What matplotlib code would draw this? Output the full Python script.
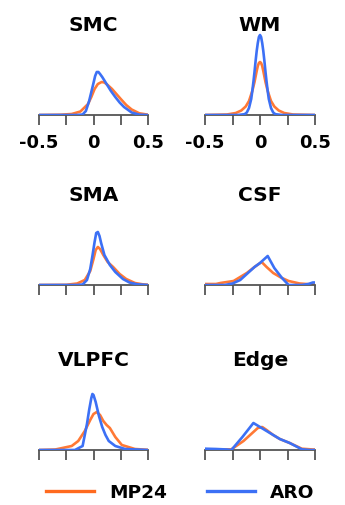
import numpy as np
import matplotlib.pyplot as plt
from matplotlib.lines import Line2D

plt.rcParams['font.family'] = ['DejaVu Sans']

# density curves: x positions and heights (density units)
smc_blue_x = [-0.5, -0.15, -0.1, -0.07, -0.04, -0.02, 0.0, 0.015, 0.03, 0.045, 0.06, 0.08, 0.12, 0.16, 0.2, 0.24, 0.28, 0.35, 0.42, 0.5]
smc_blue_y = [0, 0, 0.05, 0.4, 1.4, 2.3, 3.2, 3.9, 4.3, 4.3, 4.1, 3.8, 3.1, 2.4, 1.8, 1.25, 0.8, 0.25, 0.03, 0]
smc_orng_x = [-0.5, -0.3, -0.2, -0.12, -0.05, -0.02, 0.01, 0.04, 0.075, 0.1, 0.13, 0.17, 0.21, 0.25, 0.3, 0.35, 0.42, 0.5]
smc_orng_y = [0, 0.03, 0.1, 0.35, 1.1, 1.8, 2.6, 3.1, 3.3, 3.25, 3.0, 2.6, 2.1, 1.6, 1.0, 0.55, 0.17, 0.03]

wm_blue_x = [-0.5, -0.2, -0.14, -0.12, -0.1, -0.08, -0.07, -0.06, -0.05, -0.04, -0.03, -0.02, -0.01, 0.0,
             0.01, 0.02, 0.03, 0.04, 0.05, 0.06, 0.07, 0.08, 0.1, 0.12, 0.14, 0.2, 0.5]
wm_blue_y = [0, 0, 0.08, 0.25, 0.7, 1.6, 2.4, 3.3, 4.3, 5.4, 6.4, 7.2, 7.8, 8.0,
             7.8, 7.2, 6.4, 5.4, 4.3, 3.3, 2.4, 1.6, 0.7, 0.25, 0.08, 0, 0]
wm_orng_x = [-0.5, -0.3, -0.22, -0.17, -0.13, -0.1, -0.07, -0.05, -0.03, -0.02, -0.01, 0.0,
             0.01, 0.02, 0.03, 0.05, 0.07, 0.1, 0.13, 0.17, 0.22, 0.3, 0.5]
wm_orng_y = [0, 0.05, 0.2, 0.45, 0.85, 1.4, 2.4, 3.3, 4.4, 4.9, 5.2, 5.3,
             5.2, 4.9, 4.4, 3.3, 2.4, 1.4, 0.85, 0.45, 0.2, 0.05, 0]

sma_blue_x = [-0.5, -0.15, -0.1, -0.06, -0.03, -0.01, 0.01, 0.025, 0.04, 0.055, 0.07, 0.1, 0.15, 0.2, 0.27, 0.33, 0.4, 0.5]
sma_blue_y = [0, 0, 0.05, 0.5, 1.6, 2.9, 4.3, 5.2, 5.3, 4.9, 4.2, 3.0, 2.0, 1.3, 0.6, 0.25, 0.07, 0]
sma_orng_x = [-0.5, -0.25, -0.15, -0.08, -0.03, 0.0, 0.02, 0.04, 0.06, 0.09, 0.13, 0.18, 0.24, 0.3, 0.38, 0.45, 0.5]
sma_orng_y = [0, 0.02, 0.15, 0.5, 1.4, 2.6, 3.5, 3.8, 3.6, 3.0, 2.3, 1.8, 1.1, 0.6, 0.2, 0.07, 0.03]

csf_blue_x = [-0.5, -0.32, -0.25, -0.18, -0.12, -0.05, 0.0, 0.07, 0.13, 0.2, 0.26, 0.38, 0.44, 0.48, 0.5]
csf_blue_y = [0, 0, 0.15, 0.5, 1.1, 1.8, 2.2, 2.9, 1.7, 0.7, 0, 0, 0.1, 0.25, 0.25]
csf_orng_x = [-0.5, -0.4, -0.36, -0.24, -0.12, -0.05, 0.015, 0.06, 0.12, 0.19, 0.26, 0.36, 0.48, 0.5]
csf_orng_y = [0.1, 0.1, 0.2, 0.4, 1.2, 1.8, 2.3, 1.8, 1.2, 0.75, 0.4, 0.15, 0.05, 0.05]

vlp_blue_x = [-0.5, -0.17, -0.1, -0.06, -0.04, -0.02, -0.01, 0.0, 0.02, 0.05, 0.08, 0.11, 0.14, 0.2, 0.29, 0.5]
vlp_blue_y = [0, 0, 0.4, 2.6, 4.0, 5.2, 5.6, 5.5, 4.8, 3.4, 2.3, 1.5, 0.9, 0.4, 0.1, 0]
vlp_orng_x = [-0.5, -0.35, -0.2, -0.14, -0.08, -0.03, 0.0, 0.03, 0.06, 0.09, 0.12, 0.15, 0.2, 0.26, 0.38, 0.5]
vlp_orng_y = [0, 0.05, 0.4, 0.9, 1.9, 3.0, 3.6, 3.8, 3.5, 2.9, 2.5, 2.2, 1.3, 0.5, 0.1, 0.02]

edg_blue_x = [-0.5, -0.4, -0.3, -0.26, -0.16, -0.06, 0.06, 0.18, 0.27, 0.38, 0.45, 0.5]
edg_blue_y = [0.13, 0.1, 0.05, 0, 1.3, 2.7, 1.9, 1.1, 0.7, 0.07, 0, 0]
edg_orng_x = [-0.5, -0.35, -0.26, -0.15, -0.07, -0.02, 0.02, 0.06, 0.12, 0.18, 0.27, 0.38, 0.48, 0.5]
edg_orng_y = [0.05, 0.05, 0.07, 0.9, 1.7, 2.2, 2.3, 2.0, 1.5, 1.1, 0.7, 0.13, 0.05, 0.05]

regions = ['SMC', 'WM', 'SMA', 'CSF', 'VLPFC', 'Edge']
blue = [(smc_blue_x, smc_blue_y), (wm_blue_x, wm_blue_y), (sma_blue_x, sma_blue_y),
        (csf_blue_x, csf_blue_y), (vlp_blue_x, vlp_blue_y), (edg_blue_x, edg_blue_y)]
orng = [(smc_orng_x, smc_orng_y), (wm_orng_x, wm_orng_y), (sma_orng_x, sma_orng_y),
        (csf_orng_x, csf_orng_y), (vlp_orng_x, vlp_orng_y), (edg_orng_x, edg_orng_y)]
ticks = [-0.5, -0.25, 0, 0.25, 0.5]
tick_labels = ['-0.5', '', '0', '', '0.5']

c_orange = '#FF6A1F'
c_blue = '#3C70F5'

W, H = 345, 506
fig = plt.figure(figsize=(W / 100, H / 100), dpi=100)

col_x = [39, 205]
col_w = [109, 110]
baselines = [116, 286, 451]
ax_h = 85
ymax = 8.5

for i, name in enumerate(regions):
    r, c = divmod(i, 2)
    left = col_x[c] / W
    bottom = 1 - baselines[r] / H
    ax = fig.add_axes([left, bottom, col_w[c] / W, ax_h / H])
    ax.plot(orng[i][0], orng[i][1], color=c_orange, lw=1.9, alpha=0.9, zorder=2)
    ax.plot(blue[i][0], blue[i][1], color=c_blue, lw=1.9, zorder=3)
    ax.set_xlim(-0.5, 0.5)
    ax.set_ylim(0, ymax)
    for s in ['top', 'right', 'left']:
        ax.spines[s].set_visible(False)
    ax.spines['bottom'].set_color('#555555')
    ax.spines['bottom'].set_linewidth(1.3)
    ax.set_yticks([])
    ax.set_xticks(ticks)
    ax.tick_params(axis='x', direction='out', length=7, width=1.3, color='#555555', pad=6)
    if r == 0:
        ax.set_xticklabels(tick_labels, fontsize=13, fontweight='bold')
    else:
        ax.set_xticklabels([])
    ax.patch.set_alpha(0)
    ax.text(0.5, 1.07, name, transform=ax.transAxes, ha='center', va='center',
            fontsize=14.5, fontweight='bold')

handles = [Line2D([], [], color=c_orange, lw=2.4), Line2D([], [], color=c_blue, lw=2.4)]
fig.legend(handles, ['MP24', 'ARO'], ncol=2, frameon=False,
           loc='center left', bbox_to_anchor=(46 / W, 1 - 493 / H),
           borderaxespad=0, borderpad=0,
           handlelength=2.6, handletextpad=0.8, columnspacing=2.2,
           prop={'weight': 'bold', 'size': 13.3})

fig.savefig('out.png', dpi=100)
